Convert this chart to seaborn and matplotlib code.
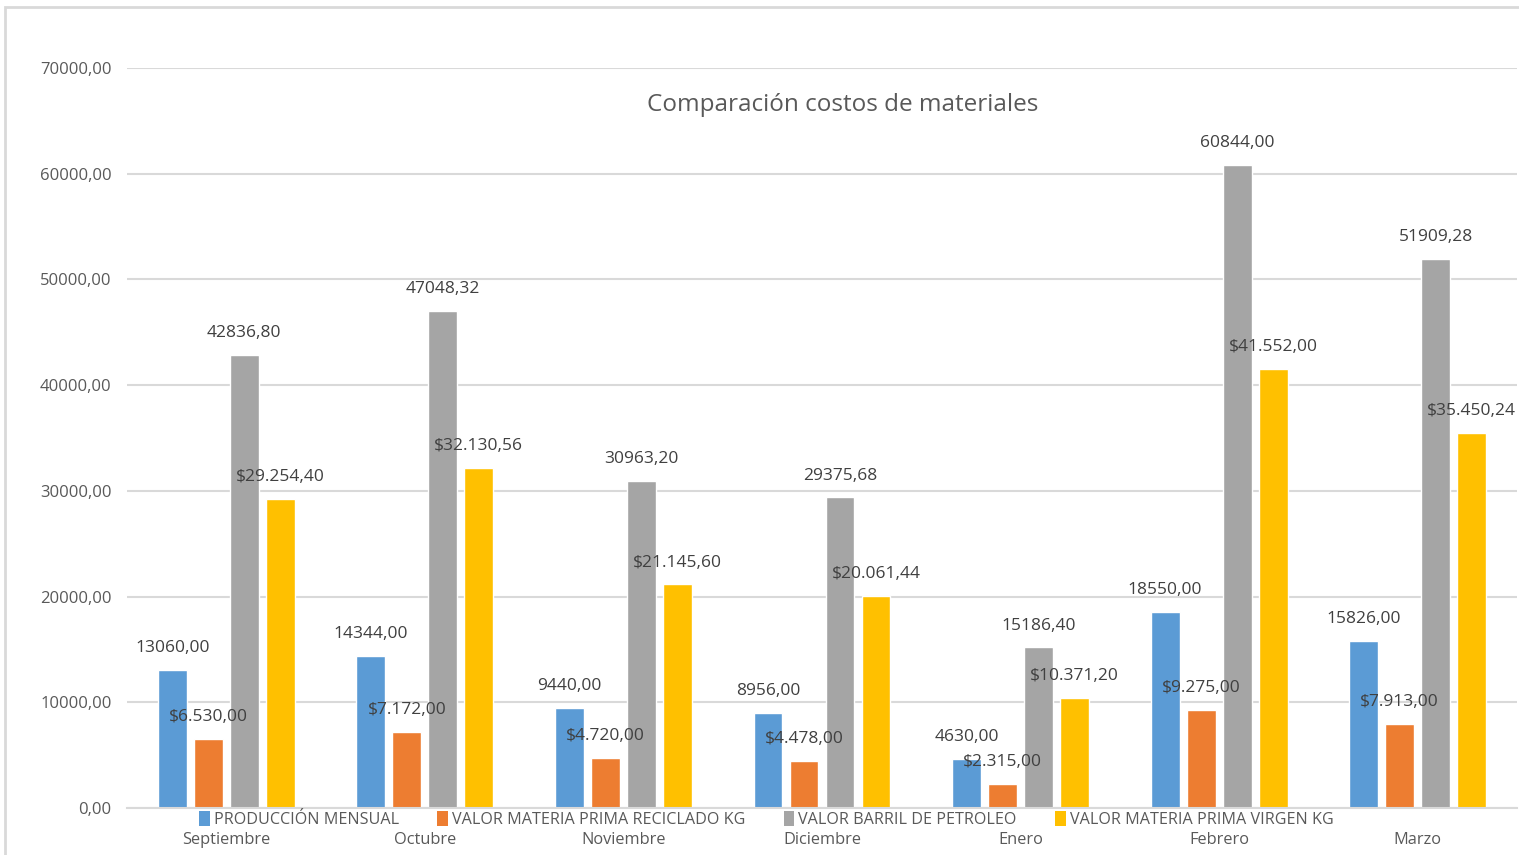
import matplotlib
matplotlib.use("Agg")
import matplotlib.pyplot as plt
from matplotlib import font_manager
from matplotlib.patches import Rectangle, Patch
import seaborn as sns
import pandas as pd

# ---- data ----
months = ["Septiembre", "Octubre", "Noviembre", "Diciembre", "Enero", "Febrero", "Marzo"]
series_names = ["PRODUCCIÓN MENSUAL", "VALOR MATERIA PRIMA RECICLADO KG",
                "VALOR BARRIL DE PETROLEO", "VALOR MATERIA PRIMA VIRGEN KG"]
produccion = [13060.00, 14344.00, 9440.00, 8956.00, 4630.00, 18550.00, 15826.00]
reciclado = [6530.00, 7172.00, 4720.00, 4478.00, 2315.00, 9275.00, 7913.00]
barril = [42836.80, 47048.32, 30963.20, 29375.68, 15186.40, 60844.00, 51909.28]
virgen = [29254.40, 32130.56, 21145.60, 20061.44, 10371.20, 41552.00, 35450.24]
y_ticks = [0, 10000, 20000, 30000, 40000, 50000, 60000, 70000]
title = "Comparación costos de materiales"

colors = ["#5B9BD5", "#ED7D31", "#A5A5A5", "#FFC000"]
text_color = "#595959"
grid_color = "#D9D9D9"

# ---- font ----
sns.set_theme(style="white")
names = {f.name for f in font_manager.fontManager.ttflist}
narrow = "Liberation Sans Narrow" in names
fam = "Liberation Sans Narrow" if narrow else "Open Sans"
plt.rcParams["font.family"] = [fam, "DejaVu Sans"]
k = 1.2 if narrow else 1.0

# ---- dataframe ----
rows = []
for s, vals in zip(series_names, [produccion, reciclado, barril, virgen]):
    for m, v in zip(months, vals):
        rows.append({"Mes": m, "Serie": s, "Valor": v})
df = pd.DataFrame(rows)


def fmt_plain(v):
    return f"{v:.2f}".replace(".", ",")


def fmt_money(v):
    s = f"{v:,.2f}"
    s = s.replace(",", "X").replace(".", ",").replace("X", ".")
    return "$" + s


formatters = [fmt_plain, fmt_money, fmt_plain, fmt_money]

fig = plt.figure(figsize=(15.19, 8.55), dpi=100)
ax = fig.add_axes([127 / 1519, 47 / 855, 1390 / 1519, 740 / 855])

sns.barplot(data=df, x="Mes", y="Valor", hue="Serie", order=months,
            hue_order=series_names, palette=colors, width=0.725, gap=0.2,
            errorbar=None, legend=False, ax=ax, saturation=1)

for cont, vals, f in zip(ax.containers, [produccion, reciclado, barril, virgen], formatters):
    ax.bar_label(cont, labels=[f(v) for v in vals], padding=10,
                 fontsize=12.5 * k, color="#404040")

ax.set_ylim(0, 70000)
ax.set_xlim(-0.5, len(months) - 0.5)
ax.set_yticks(y_ticks)
ax.set_yticklabels([fmt_plain(v) for v in y_ticks])
ax.set_xlabel("")
ax.set_ylabel("")
ax.grid(axis="y", color=grid_color, linewidth=1.5)
ax.set_axisbelow(True)
for sp in ["top", "left", "right"]:
    ax.spines[sp].set_visible(False)
ax.spines["bottom"].set_color(grid_color)
ax.spines["bottom"].set_linewidth(1.5)
ax.tick_params(axis="y", length=0, pad=11, labelsize=12 * k, labelcolor=text_color)
ax.tick_params(axis="x", length=0, pad=17, labelsize=11.8 * k, labelcolor=text_color)

ax.text(0.515, 0.95, title, transform=ax.transAxes, ha="center", va="center",
        fontsize=17.5 * k, color=text_color)

handles = [Patch(facecolor=c, edgecolor="none") for c in colors]
leg = ax.legend(handles, series_names, loc="center", bbox_to_anchor=(0.46, -0.016),
                ncol=4, frameon=False, fontsize=11.6 * k, handlelength=0.65, handleheight=1.0,
                handletextpad=0.25, columnspacing=2.4, borderpad=0, labelcolor=text_color)

fig.patches.append(Rectangle((5 / 1519, -0.05), 1.0, (855 - 7) / 855 + 0.05,
                             transform=fig.transFigure, fill=False,
                             edgecolor=grid_color, linewidth=2))

fig.savefig("out.png", dpi=100)
